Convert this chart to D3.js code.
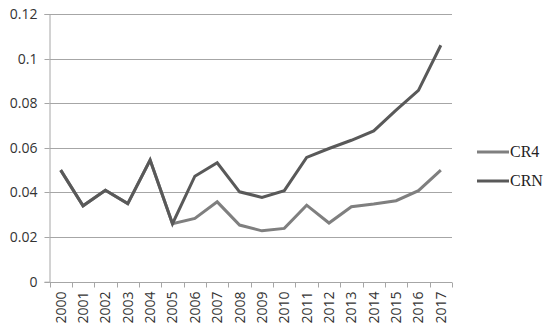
<!DOCTYPE html>
<html>
<head>
<meta charset="utf-8">
<script src="https://cdn.jsdelivr.net/npm/d3@7"></script>
<style>
  html, body { margin: 0; padding: 0; background: #fff; }
  svg { display: block; }
</style>
</head>
<body>
<svg id="chart" width="550" height="332"></svg>
<script>
const years = ["2000","2001","2002","2003","2004","2005","2006","2007","2008","2009","2010","2011","2012","2013","2014","2015","2016","2017"];
const cr4 = [0.050,0.034,0.041,0.035,0.0545,0.026,0.0284,0.0358,0.0254,0.0228,0.0239,0.0343,0.0263,0.0336,0.0348,0.0363,0.0408,0.050];
const crn = [0.050,0.034,0.041,0.035,0.0545,0.026,0.0473,0.0533,0.0403,0.0378,0.0408,0.0557,0.0597,0.0634,0.0676,0.0769,0.0858,0.106];
const yTicks = [0, 0.02, 0.04, 0.06, 0.08, 0.1, 0.12];
const seriesNames = ["CR4", "CRN"];
const seriesColors = ["#7f7f7f", "#595959"];

const svg = d3.select("#chart");
const mLeft = 49.5, mRight = 452, mTop = 14, mBottom = 281.7;

const x = d3.scaleBand().domain(years).range([mLeft, mRight]).padding(0);
const y = d3.scaleLinear().domain([0, 0.12]).range([mBottom, mTop]);

// gridlines
svg.append("g").selectAll("line").data(yTicks.filter(d => d > 0)).join("line")
  .attr("x1", mLeft).attr("x2", mRight)
  .attr("y1", d => Math.round(y(d)) + 0.5).attr("y2", d => Math.round(y(d)) + 0.5)
  .attr("stroke", "#a6a6a6").attr("stroke-width", 1);

// y axis
const yAxis = d3.axisLeft(y).tickValues(yTicks).tickSize(5).tickPadding(7)
  .tickFormat(d => d === 0 ? "0" : String(+d.toFixed(2)));
const gy = svg.append("g").attr("transform", `translate(${mLeft},0)`).call(yAxis);
gy.select(".domain").attr("stroke", "#a6a6a6");
gy.selectAll(".tick line").attr("stroke", "#a6a6a6");
gy.selectAll(".tick").attr("transform", d => `translate(0,${Math.round(y(d)) + 0.5})`);
gy.selectAll("text").attr("fill", "#333").style("font-family", "'Open Sans', 'Liberation Sans', sans-serif").style("font-size", "14px");

// x axis with ticks at band boundaries
const gx = svg.append("g").attr("transform", `translate(0,${Math.round(mBottom) + 0.5})`);
gx.append("line").attr("x1", mLeft).attr("x2", mRight).attr("stroke", "#a6a6a6");
const bounds = years.map(d => x(d)).concat([mRight]);
gx.selectAll("line.tk").data(bounds).join("line").attr("class", "tk")
  .attr("x1", d => Math.round(d) + 0.5).attr("x2", d => Math.round(d) + 0.5)
  .attr("y1", 0).attr("y2", 5).attr("stroke", "#a6a6a6");
gx.selectAll("text").data(years).join("text")
  .attr("transform", d => `translate(${x(d) + x.bandwidth() / 2 + 5},9) rotate(-90)`)
  .attr("text-anchor", "end")
  .attr("fill", "#333")
  .style("font-family", "'Open Sans', 'Liberation Sans', sans-serif")
  .style("font-size", "14px")
  .text(d => d);

// lines
const line = d3.line().x((d, i) => x(years[i]) + x.bandwidth() / 2).y(d => y(d));
[cr4, crn].forEach((s, k) => {
  svg.append("path").datum(s)
    .attr("d", line)
    .attr("fill", "none")
    .attr("stroke", seriesColors[k])
    .attr("stroke-width", 3)
    .attr("stroke-linejoin", "miter");
});

// legend
const lg = svg.append("g");
seriesNames.forEach((n, i) => {
  const ly = 152 + i * 29;
  lg.append("line").attr("x1", 477).attr("x2", 509).attr("y1", ly).attr("y2", ly)
    .attr("stroke", seriesColors[i]).attr("stroke-width", 3);
  lg.append("text").attr("x", 510).attr("y", ly + 5)
    .attr("fill", "#222")
    .style("font-family", "'Liberation Serif', 'Times New Roman', serif")
    .style("font-size", "16px")
    .text(n);
});
</script>
</body>
</html>
